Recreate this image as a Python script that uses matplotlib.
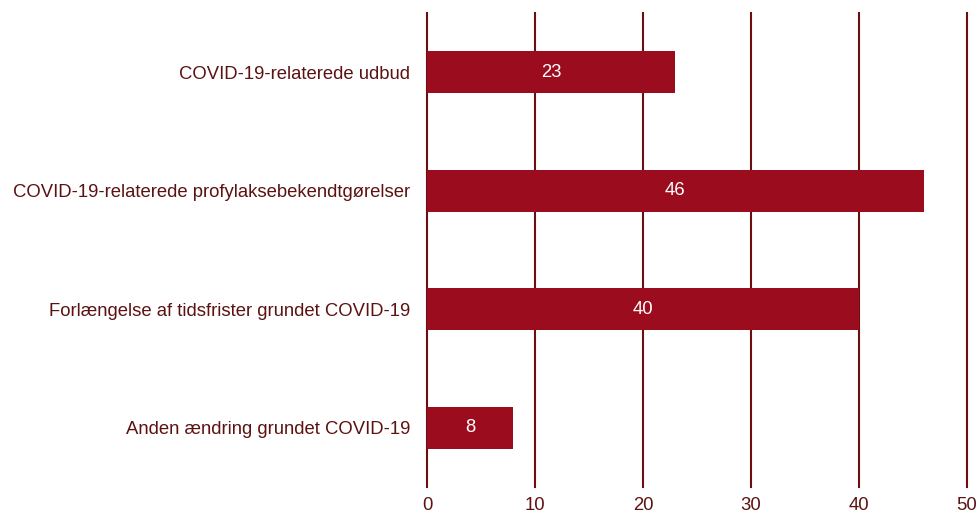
import matplotlib.pyplot as plt

plt.rcParams['font.family'] = ['Liberation Sans', 'DejaVu Sans']

kategorier = [
    "COVID-19-relaterede udbud",
    "COVID-19-relaterede profylaksebekendtgørelser",
    "Forlængelse af tidsfrister grundet COVID-19",
    "Anden ændring grundet COVID-19",
]
antal = [23, 46, 40, 8]
x_ticks = [0, 10, 20, 30, 40, 50]

BAR = "#9b0d1e"
TXT = "#5c1212"
GRID = "#6b0f12"

fig = plt.figure(figsize=(9.8, 5.16), dpi=100)
ax = fig.add_axes([0.4357, 0.0562, 0.5510, 0.9188])

pos = list(range(len(kategorier)))
bars = ax.barh(pos, antal, height=0.355, color=BAR, zorder=3)
for b, v in zip(bars, antal):
    ax.text(v / 2, b.get_y() + b.get_height() / 2, str(v), ha="center", va="center",
            color="white", fontsize=13.3, zorder=4)

ax.set_xlim(0, 50)
ax.set_ylim(3.5, -0.5)
ax.set_xticks(x_ticks)
ax.set_yticks(pos)
ax.set_yticklabels(kategorier)
ax.xaxis.grid(True, color=GRID, linewidth=1.5, zorder=1)
for gl in ax.get_xgridlines():
    gl.set_clip_on(False)
ax.tick_params(axis="both", length=0, labelsize=13.3, colors=TXT)
ax.tick_params(axis="y", pad=12)
ax.tick_params(axis="x", pad=7)
for s in ax.spines.values():
    s.set_visible(False)

fig.savefig("out.png", dpi=100)
